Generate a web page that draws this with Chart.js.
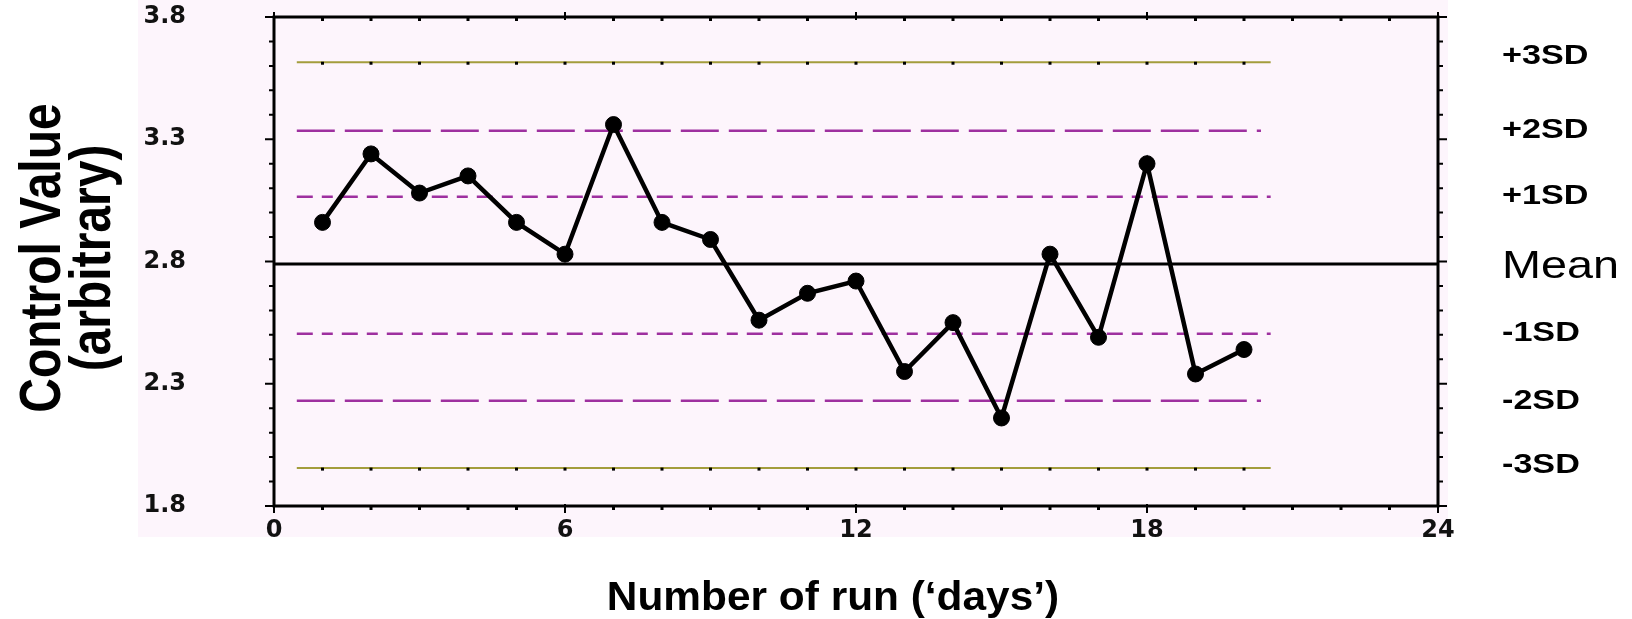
<!DOCTYPE html>
<html>
<head>
<meta charset="utf-8">
<script src="https://cdn.jsdelivr.net/npm/chart.js"></script>
<style>
  html, body { margin: 0; padding: 0; background: #fff; }
  #wrap { width: 1632px; height: 619px; }
</style>
</head>
<body>
<div id="wrap"><canvas id="qcChart" width="1632" height="619"></canvas></div>
<script>
// Levey-Jennings style control chart: one control value per run
const runs = [1, 2, 3, 4, 5, 6, 7, 8, 9, 10, 11, 12, 13, 14, 15, 16, 17, 18, 19, 20];
const controlValues = [2.96, 3.24, 3.08, 3.15, 2.96, 2.83, 3.36, 2.96, 2.89, 2.56,
                       2.67, 2.72, 2.35, 2.55, 2.16, 2.83, 2.49, 3.20, 2.34, 2.44];

// control limits (mean +/- 1, 2, 3 SD)
const limitLabels = ['+3SD', '+2SD', '+1SD', 'Mean', '-1SD', '-2SD', '-3SD'];
const limitValues = [3.615, 3.335, 3.065, 2.79, 2.505, 2.23, 1.955];

const xTicks = [0, 6, 12, 18, 24];
const yTicks = [1.8, 2.3, 2.8, 3.3, 3.8];

const xMin = 0, xMax = 24, yMin = 1.8, yMax = 3.8;
const limitFrom = 0.47, limitTo = 20.55;   // SD lines stop short of the axes

const OLIVE = '#a39d3c';
const PURPLE = '#9e309f';

function limitStyle(label) {
  if (label === 'Mean') return { borderColor: '#000', borderWidth: 3, borderDash: [] };
  if (label.indexOf('3') >= 0) return { borderColor: OLIVE, borderWidth: 2, borderDash: [] };
  if (label.indexOf('2') >= 0) return { borderColor: PURPLE, borderWidth: 2.5, borderDash: [38, 10] };
  return { borderColor: PURPLE, borderWidth: 2.5, borderDash: [16, 9, 11, 9] };
}

const limitSets = limitLabels.map(function (label, i) {
  const isMean = label === 'Mean';
  const st = limitStyle(label);
  return {
    label: label,
    data: [
      { x: isMean ? xMin : limitFrom, y: limitValues[i] },
      { x: isMean ? xMax : (label.indexOf('2') >= 0 ? limitTo - 0.2 : limitTo), y: limitValues[i] }
    ],
    borderColor: st.borderColor,
    borderWidth: st.borderWidth,
    borderDash: st.borderDash,
    pointRadius: 0,
    fill: false,
    tension: 0,
    order: 2
  };
});

function stretchedText(ctx, text, x, y, sx, font, align) {
  ctx.save();
  ctx.translate(x, y);
  ctx.scale(sx, 1);
  ctx.font = font;
  ctx.textAlign = align;
  ctx.textBaseline = 'middle';
  ctx.fillText(text, 0, 0);
  ctx.restore();
}

const framePlugin = {
  id: 'frame',
  beforeDraw(chart) {
    const ctx = chart.ctx, a = chart.chartArea;
    ctx.save();
    ctx.fillStyle = '#fdf5fc';
    ctx.fillRect(a.left - 136, 0, (a.right - a.left) + 146, a.bottom + 31);
    ctx.restore();
  },
  afterDraw(chart) {
    const ctx = chart.ctx, a = chart.chartArea;
    const xs = chart.scales.x, ys = chart.scales.y;
    ctx.save();
    ctx.strokeStyle = '#000';
    ctx.fillStyle = '#000';

    // frame
    ctx.lineWidth = 3;
    ctx.strokeRect(a.left, a.top, a.right - a.left, a.bottom - a.top);

    // y minor / major ticks, both sides
    ctx.lineWidth = 2;
    for (let i = 0; i <= 20; i++) {
      const py = ys.getPixelForValue(yMin + i * 0.1);
      const len = i % 5 === 0 ? 9 : 5;
      ctx.beginPath();
      ctx.moveTo(a.left - len, py); ctx.lineTo(a.left, py);
      ctx.moveTo(a.right, py); ctx.lineTo(a.right + len, py);
      ctx.stroke();
    }

    // x ticks: dots at each run, longer marks at labelled ticks
    for (let v = xMin; v <= xMax; v++) {
      const px = xs.getPixelForValue(v);
      if (v % 6 === 0) {
        ctx.beginPath();
        ctx.moveTo(px, a.top - 5); ctx.lineTo(px, a.top + 3);
        ctx.moveTo(px, a.bottom - 2); ctx.lineTo(px, a.bottom + 7);
        ctx.stroke();
      } else {
        ctx.fillRect(px - 1.5, a.top + 1, 3, 3);
        ctx.fillRect(px - 1.5, a.bottom + 1, 3, 3);
      }
    }

    // little run markers on the 3SD lines
    [limitValues[0], limitValues[limitValues.length - 1]].forEach(function (v) {
      const py = ys.getPixelForValue(v);
      runs.forEach(function (r) {
        ctx.fillRect(xs.getPixelForValue(r) - 1.5, py - 0.5, 3, 3);
      });
    });

    // right-hand labels
    ctx.fillStyle = '#000';
    limitLabels.forEach(function (label, i) {
      const py = ys.getPixelForValue(limitValues[i]);
      if (label === 'Mean') {
        stretchedText(ctx, label, 1502, py + 3, 1.2, '39px "Liberation Sans", Arial, sans-serif', 'left');
      } else {
        const nudge = label === '+3SD' ? -6 : (label === '-3SD' ? -3 : 0);
        stretchedText(ctx, label, 1502, py + nudge, 1.22, 'bold 28px "Liberation Sans", Arial, sans-serif', 'left');
      }
    });

    // axis titles
    stretchedText(ctx, 'Number of run (\u2018days\u2019)', 833, 599, 1.06,
      'bold 40px "Liberation Sans", Arial, sans-serif', 'center');

    ctx.font = 'bold 48px "Liberation Sans", Arial, sans-serif';
    ctx.textAlign = 'center';
    ctx.textBaseline = 'alphabetic';
    [['Control Value', 60], ['(arbitrary)', 110]].forEach(function (t) {
      ctx.save();
      ctx.translate(t[1], 258);
      ctx.rotate(-Math.PI / 2);
      ctx.scale(1, 1.2);
      ctx.fillText(t[0], 0, 0);
      ctx.restore();
    });
    ctx.restore();
  }
};

const tickFont = { family: '"DejaVu Sans", sans-serif', size: 24, weight: 'bold' };

new Chart(document.getElementById('qcChart'), {
  type: 'line',
  data: {
    datasets: [
      {
        label: 'Control value',
        data: runs.map(function (r, i) { return { x: r, y: controlValues[i] }; }),
        borderColor: '#000',
        borderWidth: 4.5,
        pointRadius: 8,
        pointBorderWidth: 1,
        pointBackgroundColor: '#000',
        pointBorderColor: '#000',
        tension: 0,
        order: 0
      }
    ].concat(limitSets)
  },
  options: {
    responsive: false,
    animation: false,
    layout: { padding: { left: 0, right: 194, top: 17, bottom: 0 } },
    plugins: {
      legend: { display: false },
      tooltip: { enabled: false }
    },
    scales: {
      x: {
        type: 'linear',
        min: xMin,
        max: xMax,
        afterBuildTicks: function (s) { s.ticks = xTicks.map(function (v) { return { value: v }; }); },
        afterFit: function (s) { s.height = 113; s.paddingLeft = 0; s.paddingRight = 0; },
        grid: { display: false },
        border: { display: false },
        ticks: { font: tickFont, color: '#111', padding: 2, maxRotation: 0, autoSkip: false }
      },
      y: {
        type: 'linear',
        min: yMin,
        max: yMax,
        afterBuildTicks: function (s) { s.ticks = yTicks.map(function (v) { return { value: v }; }); },
        afterFit: function (s) { s.width = 274; s.paddingTop = 0; s.paddingBottom = 0; },
        grid: { display: false },
        border: { display: false },
        ticks: {
          font: tickFont, color: '#111', padding: 80, autoSkip: false,
          callback: function (v) { return v.toFixed(1); }
        }
      }
    }
  },
  plugins: [framePlugin]
});
</script>
</body>
</html>
